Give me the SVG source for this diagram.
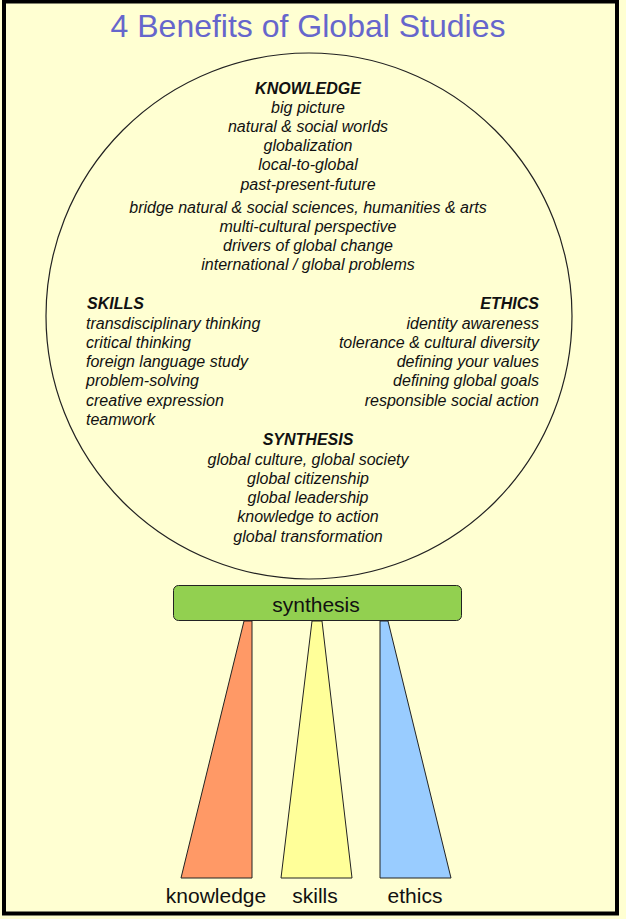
<svg xmlns="http://www.w3.org/2000/svg" width="626" height="919" viewBox="0 0 626 919">
<style>
.t{font-family:"Liberation Sans",Arial,sans-serif;font-size:16px;font-style:italic;fill:#111}
.h{font-weight:bold}
.c{text-anchor:middle}
.r{text-anchor:end}
.lbl{font-family:"Liberation Sans",Arial,sans-serif;font-size:21px;fill:#111;text-anchor:middle}
.tri{stroke:#222;stroke-width:1}
</style>
<rect x="0" y="0" width="626" height="919" fill="#FFFFD2"/>
<rect x="4" y="1.5" width="613" height="912" fill="#FFFFD2" stroke="#000" stroke-width="4"/>
<text x="308" y="37" font-family="'Liberation Sans',Arial,sans-serif" font-size="32" fill="#6666CC" text-anchor="middle">4 Benefits of Global Studies</text>
<g id="circle">
<circle cx="309" cy="316" r="263" fill="none" stroke="#222" stroke-width="1.2"/>
</g>
<g id="knowledge-text">
<text class="t h c" x="308" y="94">KNOWLEDGE</text>
<text class="t c" x="308" y="113">big picture</text>
<text class="t c" x="308" y="132">natural &amp; social worlds</text>
<text class="t c" x="308" y="151">globalization</text>
<text class="t c" x="308" y="170">local-to-global</text>
<text class="t c" x="308" y="190">past-present-future</text>
<text class="t c" x="308" y="213">bridge natural &amp; social sciences, humanities &amp; arts</text>
<text class="t c" x="308" y="232">multi-cultural perspective</text>
<text class="t c" x="308" y="251">drivers of global change</text>
<text class="t c" x="308" y="270">international / global problems</text>
</g>
<g id="skills-text">
<text class="t h" x="87" y="309">SKILLS</text>
<text class="t" x="86" y="329">transdisciplinary thinking</text>
<text class="t" x="86" y="348">critical thinking</text>
<text class="t" x="86" y="367">foreign language study</text>
<text class="t" x="86" y="386">problem-solving</text>
<text class="t" x="86" y="406">creative expression</text>
<text class="t" x="86" y="425">teamwork</text>
</g>
<g id="ethics-text">
<text class="t h r" x="539" y="309">ETHICS</text>
<text class="t r" x="539" y="329">identity awareness</text>
<text class="t r" x="539" y="348">tolerance &amp; cultural diversity</text>
<text class="t r" x="539" y="367">defining your values</text>
<text class="t r" x="539" y="386">defining global goals</text>
<text class="t r" x="539" y="406">responsible social action</text>
</g>
<g id="synthesis-text">
<text class="t h c" x="308" y="445">SYNTHESIS</text>
<text class="t c" x="308" y="465">global culture, global society</text>
<text class="t c" x="308" y="484">global citizenship</text>
<text class="t c" x="308" y="503">global leadership</text>
<text class="t c" x="308" y="522">knowledge to action</text>
<text class="t c" x="308" y="542">global transformation</text>
</g>
<g id="synthesis-bar">
<rect x="173.5" y="585.5" width="288" height="35" rx="5" fill="#92D050" stroke="#222" stroke-width="1"/>
<text class="lbl" x="316" y="612">synthesis</text>
</g>
<g id="knowledge-pillar">
<polygon class="tri" points="244,621 252,621 252,878 181,878" fill="#FF9966"/>
<text class="lbl" x="216" y="903">knowledge</text>
</g>
<g id="skills-pillar">
<polygon class="tri" points="312,621 322,621 352,878 281,878" fill="#FFFF99"/>
<text class="lbl" x="315" y="903">skills</text>
</g>
<g id="ethics-pillar">
<polygon class="tri" points="380,621 388,621 451,878 380,878" fill="#99CCFF"/>
<text class="lbl" x="415" y="903">ethics</text>
</g>
</svg>
